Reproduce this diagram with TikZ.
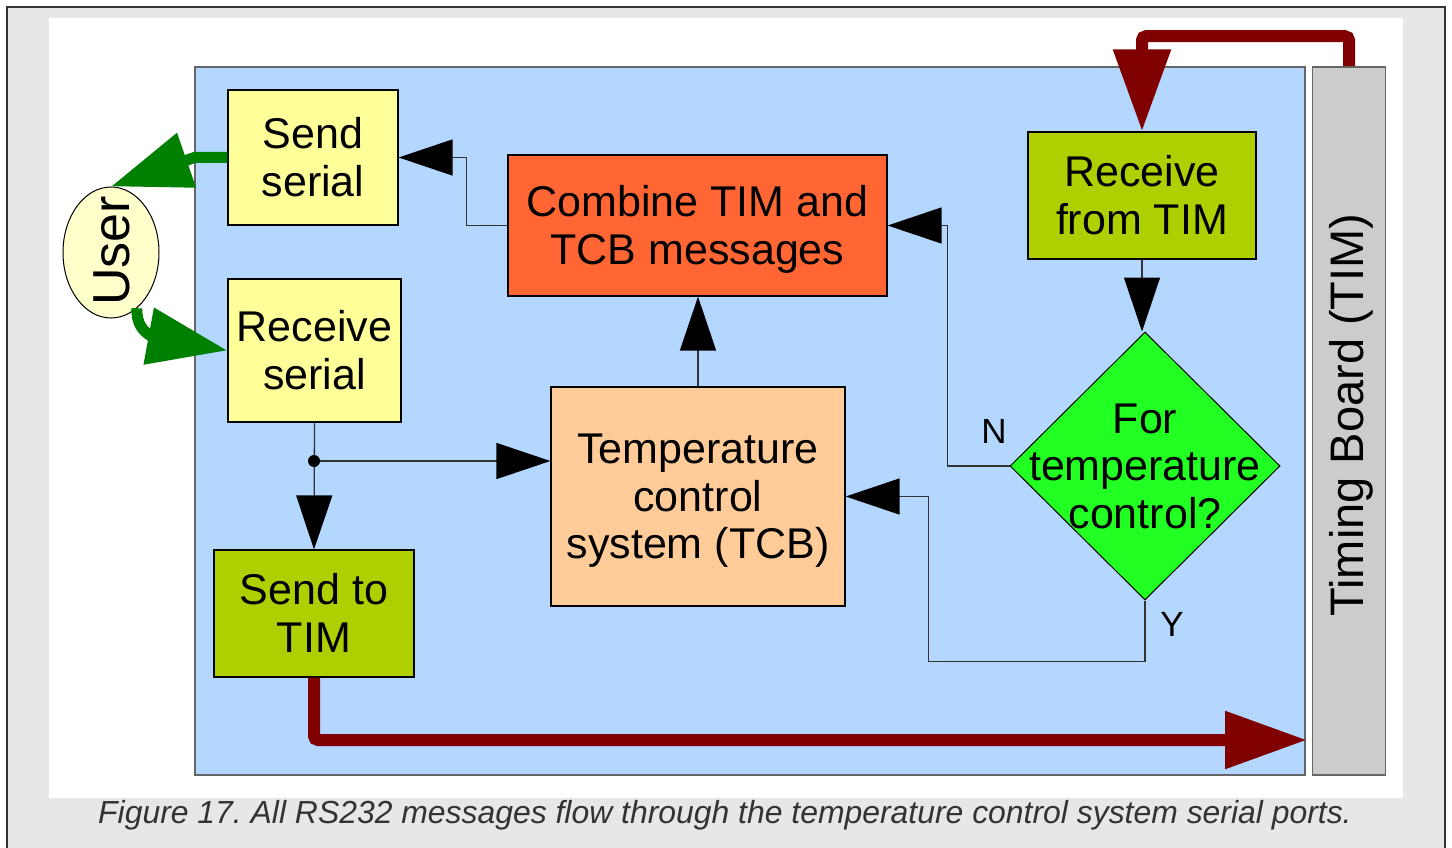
\documentclass[tikz,border=0pt]{standalone}
\usepackage{fontspec}
\setmainfont{Liberation Sans}
\usetikzlibrary{arrows.meta,shapes.geometric}

\definecolor{framegray}{HTML}{E6E7E8}
\definecolor{panelblue}{HTML}{B3D7FF}
\definecolor{bargray}{HTML}{CCCCCC}
\definecolor{paleyellow}{HTML}{FFFF99}
\definecolor{cream}{HTML}{FFFFCC}
\definecolor{limegreen}{HTML}{AFD000}
\definecolor{tomato}{HTML}{FF6633}
\definecolor{peach}{HTML}{FFCC99}
\definecolor{brightgreen}{HTML}{22FF22}
\definecolor{darkred}{HTML}{800000}
\definecolor{flowgreen}{HTML}{008000}
\definecolor{linegray}{HTML}{333333}

% line box struts: full ascent above the first line, full descent below the last
\newcommand{\topstrut}{\rule{0pt}{0.905em}}
\newcommand{\botstrut}{\rule[-0.212em]{0pt}{0.212em}}

\begin{document}
\frenchspacing
\begin{tikzpicture}[x=1pt,y=-1pt,
  box/.style={draw=black, line width=1.2pt, inner sep=0pt, align=center,
    font=\fontsize{43}{47.5}\selectfont},
  flow/.style={draw=linegray, line width=1.3pt,
    -{Triangle[length=54pt,width=36pt,color=black]}},
  bigred/.style={draw=darkred, line width=12pt, rounded corners=4pt,
    -{Triangle[length=82pt,width=55pt]}},
  biggreen/.style={draw=flowgreen, line width=11pt,
    -{Triangle[length=80pt,width=55pt]}},
  yn/.style={font=\fontsize{35}{40}\selectfont, inner sep=0pt}]

\useasboundingbox (0,0) rectangle (1452,848);

% page frame and white drawing area
\fill[framegray] (7,7) rectangle (1445,870);
\draw[line width=2pt, draw=linegray] (7,870) -- (7,7) -- (1445,7) -- (1445,870);
\fill[white] (49,18) rectangle (1403,798);

% system panel and timing board bar
\node[draw=black!60, line width=1.5pt, fill=panelblue, inner sep=0pt,
  minimum width=1110pt, minimum height=708pt] (panel) at (750,421) {};
\node[draw=black!60, line width=1.5pt, fill=bargray, inner sep=0pt,
  minimum width=73pt, minimum height=708pt] (tim) at (1349,421) {};
\node[rotate=90, inner sep=0pt, font=\fontsize{47}{52}\selectfont]
  (timtext) at (1351,415) {Timing Board (TIM)};

% process boxes
\node[box, fill=paleyellow, minimum width=170pt, minimum height=135pt]
  (ss) at (313,157.5) {\topstrut Send\\serial\botstrut};
\node[box, fill=paleyellow, minimum width=173pt, minimum height=143pt]
  (rs) at (314.5,350.5) {\topstrut Receive\\serial\botstrut};
\node[box, fill=limegreen, minimum width=200pt, minimum height=127pt]
  (stt) at (314,613.5) {\topstrut Send to\\TIM\botstrut};
\node[box, fill=tomato, minimum width=379pt, minimum height=141pt]
  (comb) at (697.5,225.5) {\topstrut Combine TIM and\\TCB messages\botstrut};
\node[box, fill=peach, minimum width=294pt, minimum height=219pt]
  (tcs) at (698,496.5) {\topstrut Temperature\\control\\system (TCB)\botstrut};
\node[box, fill=limegreen, minimum width=228pt, minimum height=127pt]
  (rft) at (1142,195.5) {\topstrut Receive\\from TIM\botstrut};

% decision
\node[diamond, draw=black, line width=1pt, fill=brightgreen, inner sep=0pt,
  minimum width=270pt, minimum height=268pt] (dec) at (1145,466) {};
\node[align=center, inner sep=0pt, font=\fontsize{43}{47.5}\selectfont]
  (dectext) at (dec.center) {\topstrut For\\temperature\\control?\botstrut};

% user
\node[ellipse, draw=black, line width=1pt, fill=cream, inner sep=0pt,
  minimum width=96pt, minimum height=131pt] (user) at (111,252.5) {};
\node[rotate=90, inner sep=0pt, font=\fontsize{52}{56}\selectfont]
  (usertext) at (112,251) {User};

% internal flows
\draw[flow] (comb.west) -- ++(-41,0) |- (ss.east);
\draw[flow] (dec.west) -- ++(-62,0) |- (comb.east);
\draw[flow] (dec.south) -- ++(0,61) -| ([xshift=83pt]tcs.east) -- (tcs.east);
\draw[flow] (rft.south) -- (rft.south |- dec.north);
\draw[flow] (tcs.north) -- (tcs.north |- comb.south);
\coordinate (j) at (314,461);
\draw[flow] (rs.south) -- (stt.north);
\draw[flow] (j) -- (j -| tcs.west);
\fill[black] (j) circle (6pt);

\node[yn] (nlabel) at (994,431) {N};
\node[yn] (ylabel) at (1172,624) {Y};

% links to the timing board
\coordinate (rb) at (1307,740);
\draw[bigred] (stt.south) |- (rb);
\draw[bigred] (tim.north) -- ++(0,-30) -| (rft.north);

% links to the user
\draw[biggreen] (ss.west) -- ++(-33,0) -- (user.north);
\draw[biggreen] (user.-65) .. controls (135,340) and (170,340) .. (rs.west);

% caption
\node[font=\fontsize{31.9}{36}\selectfont\itshape, text=linegray, inner sep=0pt]
  (caption) at (725,815)
  {Figure 17. All RS232 messages flow through the temperature control system serial ports.};
\end{tikzpicture}
\end{document}
